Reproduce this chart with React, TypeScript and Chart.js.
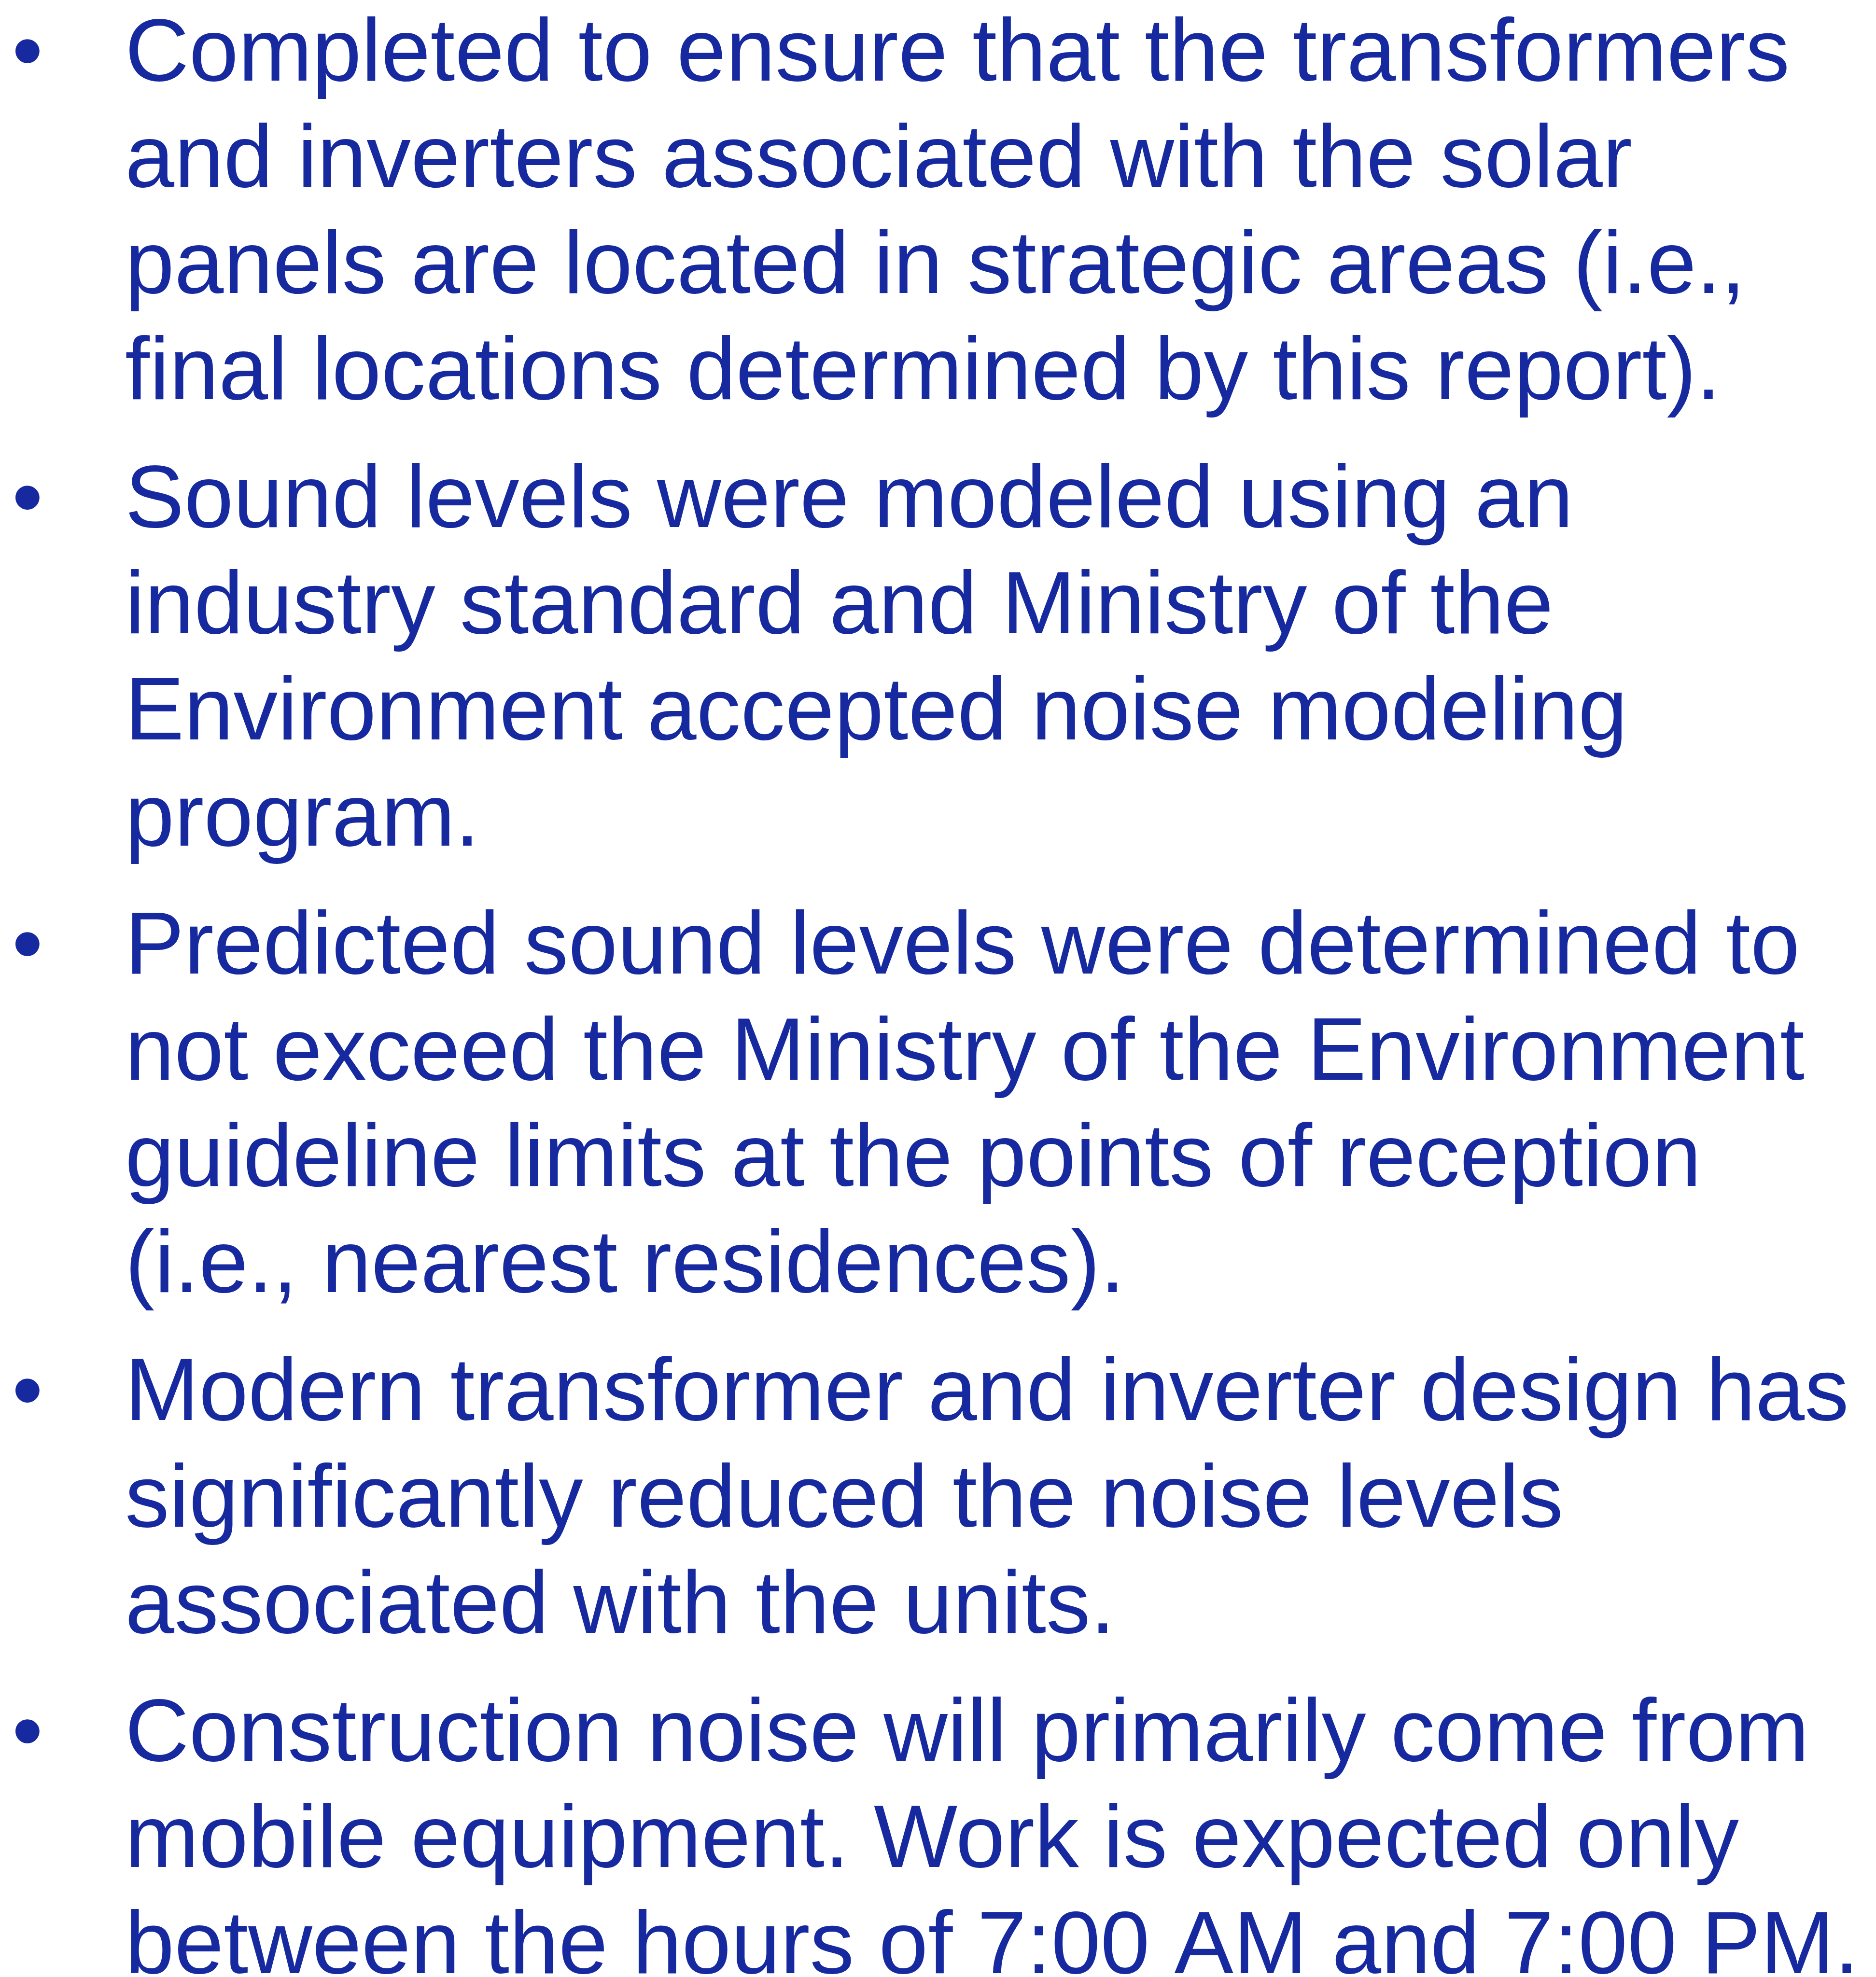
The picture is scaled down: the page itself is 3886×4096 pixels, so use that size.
import React, { useEffect, useRef } from "react";
import { Chart, registerables } from "chart.js";

Chart.register(...registerables);

const paragraph1: string[] = [
  "Completed to ensure that the transformers",
  "and inverters associated with the solar",
  "panels are located in strategic areas (i.e.,",
  "final locations determined by this report).",
];
const paragraph2: string[] = [
  "Sound levels were modeled using an",
  "industry standard and Ministry of the",
  "Environment accepted noise modeling",
  "program.",
];
const paragraph3: string[] = [
  "Predicted sound levels were determined to",
  "not exceed the Ministry of the Environment",
  "guideline limits at the points of reception",
  "(i.e., nearest residences).",
];
const paragraph4: string[] = [
  "Modern transformer and inverter design has",
  "significantly reduced the noise levels",
  "associated with the units.",
];
const paragraph5: string[] = [
  "Construction noise will primarily come from",
  "mobile equipment. Work is expected only",
  "between the hours of 7:00 AM and 7:00 PM.",
];
const paragraphs: string[][] = [paragraph1, paragraph2, paragraph3, paragraph4, paragraph5];
const bulletChar = "•";

const W = 3886;
const H = 4096;
const S = 0.956;
const FONT_SIZE = 192 * S;
const LINE_STEP = 230.2 * S;
const PARA_GAP = 47 * S;
const FIRST_BASELINE = 174.5 * S;
const TEXT_X = 271 * S;
const BULLET_X = 26 * S;
const COLOR = "#16299F";

const bulletTextPlugin = {
  id: "bulletText",
  afterDraw(chart: any) {
    const ctx = chart.ctx as CanvasRenderingContext2D;
    ctx.save();
    ctx.fillStyle = COLOR;
    ctx.textBaseline = "alphabetic";
    ctx.textAlign = "left";
    ctx.font = `${FONT_SIZE}px "Liberation Sans", Arial, sans-serif`;
    let y = FIRST_BASELINE;
    paragraphs.forEach((lines, pi) => {
      if (pi > 0) y += PARA_GAP;
      ctx.fillText(bulletChar, BULLET_X, y);
      lines.forEach((line, li) => {
        ctx.fillText(line, TEXT_X, y);
        if (li < lines.length - 1 || pi < paragraphs.length - 1) y += LINE_STEP;
      });
    });
    ctx.restore();
  },
};

export default function App() {
  const ref = useRef<HTMLCanvasElement | null>(null);
  useEffect(() => {
    document.body.style.margin = "0";
    document.body.style.background = "#ffffff";
    if (!ref.current) return;
    const chart = new Chart(ref.current, {
      type: "scatter",
      data: { datasets: [{ data: [] }] },
      options: {
        animation: false,
        responsive: false,
        devicePixelRatio: 1,
        layout: { padding: 0 },
        plugins: { legend: { display: false }, title: { display: false }, tooltip: { enabled: false } },
        scales: { x: { display: false }, y: { display: false } },
      },
      plugins: [bulletTextPlugin],
    });
    return () => chart.destroy();
  }, []);
  return (
    <div style={{ position: "fixed", left: 0, top: 0, width: W, height: H, background: "#fff" }}>
      <canvas ref={ref} width={W} height={H} style={{ width: W, height: H, display: "block" }} />
    </div>
  );
}
